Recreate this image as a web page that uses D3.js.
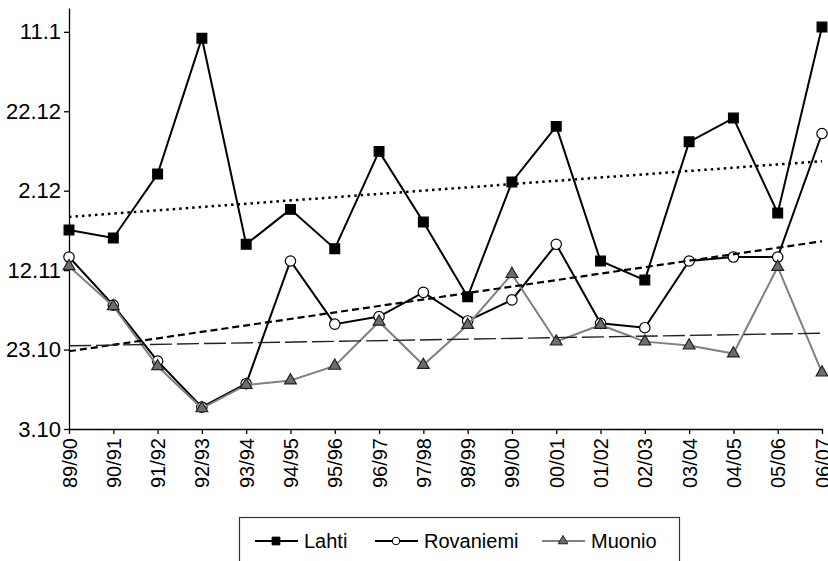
<!DOCTYPE html>
<html>
<head>
<meta charset="utf-8">
<script src="https://cdn.jsdelivr.net/npm/d3@7"></script>
<style>
  body { margin: 0; background: #fff; }
  svg { display: block; }
  svg text { font-family: "Liberation Sans", Arial, sans-serif; }
</style>
</head>
<body>
<div id="chart"></div>
<script>
// winter seasons
const seasons = ["89/90","90/91","91/92","92/93","93/94","94/95","95/96","96/97","97/98",
  "98/99","99/00","00/01","01/02","02/03","03/04","04/05","05/06","06/07"];

// values are days counted from 3 October
const lahti = [50.1,48.1,64.2,98.4,46.5,55.3,45.4,69.9,52.1,33.3,62.2,76.2,42.3,37.5,72.3,78.3,54.4,101.2];
const rovaniemi = [43.3,31.2,17.1,5.5,11.4,42.3,26.4,28.3,34.4,27.2,32.5,46.5,26.6,25.5,42.3,43.3,43.3,74.4];
const muonio = [41.0,30.9,15.8,5.2,11.1,12.2,15.9,27.0,16.1,26.2,39.0,22.0,26.2,22.0,21.0,19.0,40.8,14.2];

const yTickValues = [0, 20, 40, 60, 80, 100];
const yTickLabels = ["3.10","23.10","12.11","2.12","22.12","11.1"];

const width = 828, height = 561;
const svg = d3.select("#chart").append("svg")
    .attr("width", width)
    .attr("height", height);

const x = d3.scalePoint().domain(seasons).range([69, 822]);
const y = d3.scaleLinear().domain([0, 106]).range([429, 8]);

// axes
const yAxis = svg.append("g")
    .attr("transform", "translate(69,0)")
    .call(d3.axisLeft(y).tickValues(yTickValues)
        .tickFormat((d, i) => yTickLabels[i]).tickSize(5).tickPadding(3).tickSizeOuter(0));
yAxis.attr("font-family", null).attr("font-size", null);
yAxis.selectAll("text").style("font-size", "22px").attr("fill", "#000");
yAxis.selectAll("line, path").attr("stroke", "#000").attr("stroke-width", 1.3);

const xAxis = svg.append("g")
    .attr("transform", "translate(0,429)")
    .call(d3.axisBottom(x).tickSize(5).tickSizeOuter(0));
xAxis.attr("font-family", null).attr("font-size", null);
xAxis.selectAll("line, path").attr("stroke", "#000").attr("stroke-width", 1.3);
xAxis.selectAll("text")
    .style("font-size", "20px")
    .attr("fill", "#000")
    .attr("text-anchor", "end")
    .attr("transform", "rotate(-90)")
    .attr("x", -9)
    .attr("y", 0)
    .attr("dy", "0.35em");

const series = [
  { name: "Lahti", values: lahti, color: "#000", symbol: d3.symbolSquare, size: 95, legendSize: 60, fill: "#000", stroke: "#000", trend: "2.5,4", trendWidth: 2.5 },
  { name: "Rovaniemi", values: rovaniemi, color: "#000", symbol: d3.symbolCircle, size: 85, legendSize: 45, fill: "#fff", stroke: "#000", trend: "7,4", trendWidth: 2.2 },
  { name: "Muonio", values: muonio, color: "#808080", symbol: d3.symbolTriangle, size: 60, legendSize: 40, fill: "#6e6e6e", stroke: "#222", trend: "22,5", trendWidth: 1.4 }
];

const line = d3.line().x((d, i) => x(seasons[i])).y(d => y(d));

series.forEach(s => {
  svg.append("path")
      .attr("d", line(s.values))
      .attr("fill", "none")
      .attr("stroke", s.color)
      .attr("stroke-width", 2);
  svg.append("g").selectAll("path")
      .data(s.values)
      .enter()
      .append("path")
      .attr("transform", (d, i) => "translate(" + x(seasons[i]) + "," + y(d) + ")")
      .attr("d", d3.symbol().type(s.symbol).size(s.size))
      .attr("fill", s.fill)
      .attr("stroke", s.stroke)
      .attr("stroke-width", 1.2);
});

// linear trend lines
series.forEach(s => {
  const n = s.values.length;
  const mx = d3.mean(s.values, (d, i) => i);
  const my = d3.mean(s.values);
  const b = d3.sum(s.values, (d, i) => (i - mx) * (d - my)) / d3.sum(s.values, (d, i) => (i - mx) * (i - mx));
  const a = my - b * mx;
  svg.append("line")
      .attr("x1", x(seasons[0])).attr("y1", y(a))
      .attr("x2", x(seasons[n - 1])).attr("y2", y(a + b * (n - 1)))
      .attr("stroke", s.name === "Muonio" ? "#222" : "#000")
      .attr("stroke-width", s.trendWidth)
      .attr("stroke-dasharray", s.trend);
});

// legend
const legend = svg.append("g");
legend.append("rect")
    .attr("x", 239.5).attr("y", 517.5)
    .attr("width", 440).attr("height", 50)
    .attr("fill", "#fff").attr("stroke", "#333").attr("stroke-width", 1.2);

const legendX = [255, 375, 542];
series.forEach((s, i) => {
  const g = legend.append("g").attr("transform", "translate(" + legendX[i] + ",541)");
  g.append("line").attr("x1", 0).attr("x2", 43)
      .attr("stroke", s.color).attr("stroke-width", 2);
  g.append("path")
      .attr("transform", "translate(21,0)")
      .attr("d", d3.symbol().type(s.symbol).size(s.legendSize))
      .attr("fill", s.fill).attr("stroke", s.stroke).attr("stroke-width", 1);
  g.append("text")
      .attr("x", 49).attr("dy", "0.35em")
      .style("font-size", "20px")
      .text(s.name);
});
</script>
</body>
</html>
